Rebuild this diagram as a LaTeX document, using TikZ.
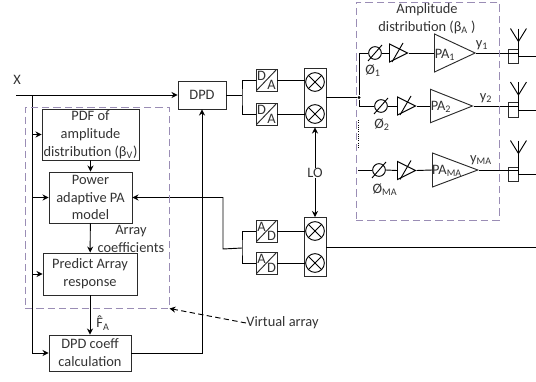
\documentclass[tikz,border=0pt]{standalone}
\usepackage{fontspec}
\setmainfont{Carlito}
\usetikzlibrary{arrows.meta, positioning, shapes.geometric}

\definecolor{inkline}{HTML}{2B2B2B}
\definecolor{dashbox}{HTML}{9A8DB5}

\tikzset{
    block/.style={draw=inkline, align=center, inner sep=0pt, text=black!80},
    lbl/.style={inner sep=0pt, align=center, text=black!80},
    mixbox/.style={draw=inkline, minimum width=16.5pt, minimum height=44.25pt, inner sep=0pt},
    mixer/.style={circle, draw=black, minimum size=14pt, inner sep=0pt,
        path picture={
            \draw (path picture bounding box.south west) -- (path picture bounding box.north east);
            \draw (path picture bounding box.north west) -- (path picture bounding box.south east);
        }},
    conv/.style={draw=inkline, minimum width=15.75pt, minimum height=16.5pt, inner sep=0pt,
        path picture={
            \draw (path picture bounding box.south west) -- (path picture bounding box.north east);
        }},
    phase/.style={circle, draw=black, minimum size=9.5pt, inner sep=0pt},
    amp/.style={isosceles triangle, isosceles triangle stretches, draw=black, inner sep=0pt,
        anchor=lower side, minimum width=13.5pt, minimum height=13.5pt},
    pa/.style={isosceles triangle, isosceles triangle stretches, draw=inkline, inner sep=0pt,
        anchor=lower side},
    antbox/.style={draw=inkline, minimum width=7.5pt, minimum height=11pt, inner sep=0pt},
    dashframe/.style={draw=dashbox, dash pattern=on 5.5pt off 3pt, line width=0.75pt},
}

\begin{document}
\begin{tikzpicture}[x=0.75pt, y=-0.75pt, line width=0.7pt, >={Stealth[length=4.5pt,width=4.5pt]},
        font=\fontsize{10.8}{13.4}\selectfont]
        \useasboundingbox (0,0) rectangle (536,382);

        % virtual array side
        \node[block, minimum width=72.75pt, minimum height=38.25pt] (pdf) at (90.5,134.5)
            {PDF of\\amplitude\\distribution (β\textsubscript{V})};
        \node[block, minimum width=62.25pt, minimum height=38.25pt] (power) at (90.5,197.5)
            {Power\\adaptive PA\\model};
        \node[block, minimum width=70.5pt, minimum height=31.5pt] (predict) at (90,274)
            {Predict Array\\response};
        \node[block, minimum width=61.5pt, minimum height=27pt] (dpdcoeff) at (90,353)
            {DPD coeff\\calculation};
        \node[block, minimum width=36pt, minimum height=21pt] (dpd) at (202,95) {DPD};

        \coordinate (xin) at (16,95);
        \coordinate (xtap) at (32,95);
        \node[lbl] (xlabel) at (17,80) {X};
        \draw[->] (xin) -- (dpd.west);
        \draw[->] (xtap) |- (dpdcoeff.west);
        \draw[->] (xtap |- pdf.west) -- (pdf.west);
        \draw[->] (xtap |- power.west) -- (power.west);
        \draw[->] (xtap |- predict.west) -- (predict.west);

        \draw[->] (pdf.south -| power.north) -- (power.north);
        \draw[->] (power) -- (predict);
        \draw[->] (predict.south -| dpdcoeff.north) -- (dpdcoeff.north);
        \draw[->] (dpdcoeff.east) -| (dpd.south);

        \node[lbl] (arraycoeff) at (131,239) {Array\hspace{7pt}\\coefficients};
        \node[lbl] (fhat) at (103,323) {\accent"02C6 F\textsubscript{A}};

        % up and down conversion
        \coordinate (splitda) at (242,97);
        \coordinate (splitad) at (242,248);
        \node[conv] (da1) at (266.5,80) {};
        \node[conv] (da2) at (266.5,114) {};
        \node[conv] (ad1) at (266.5,231) {};
        \node[conv] (ad2) at (266.5,263) {};
        \foreach \n/\a/\b in {da1/D/A, da2/D/A, ad1/A/D, ad2/A/D} {
            \node[lbl] at ([shift={(-5,-4)}]\n.center) {\a};
            \node[lbl] at ([shift={(5,5)}]\n.center) {\b};
        }
        \node[mixbox] (mxt) at (315,97.5) {};
        \node[mixbox] (mxb) at (315,247) {};
        \node[mixer] (mix1) at (315,82) {};
        \node[mixer] (mix2) at (315,114) {};
        \node[mixer] (mix3) at (315,231) {};
        \node[mixer] (mix4) at (315,263) {};

        \draw (dpd.east) -- (dpd.east -| splitda);
        \draw (da1.west) -| (splitda) |- (da2.west);
        \draw (ad1.west) -| (splitad) |- (ad2.west);
        \draw (da1.east) -- (da1.east -| mix1.west);
        \draw (da2.east) -- (da2.east -| mix2.west);
        \draw (ad1.east) -- (mix3.west);
        \draw (ad2.east) -- (mix4.west);

        \coordinate (fbturn) at (223,249);
        \draw[->] (splitad) -- (fbturn) |- (power.east);

        \node[lbl] (lo) at (315,173) {LO};
        \draw[->] (lo) -- (mxt.south);
        \draw[->] (lo) -- (mxb.north);
        \coordinate (rxout) at (536,247);
        \draw (mxb.east) -- (rxout);

        % amplitude distribution side
        \node[circle, fill=black, inner sep=0pt, minimum size=2.5pt] (junc) at (359,97.5) {};
        \draw (mxt.east) -- (junc);
        \coordinate (rowma) at (358,170);
        \coordinate (dotsa) at (358,120);
        \coordinate (dotsb) at (358,149);
        \draw[densely dotted] (dotsa) -- (dotsb);

        \node[phase] (ph1) at (375,53) {};
        \node[phase] (ph2) at (381,106) {};
        \node[phase] (ph3) at (379,170) {};
        \node[amp] (amp1) at (389,53) {};
        \node[amp] (amp2) at (397,106) {};
        \node[amp] (amp3) at (397,170.5) {};
        \node[pa, minimum width=28.5pt, minimum height=30.5pt] (pa1) at (434,53) {};
        \node[pa, minimum width=25pt, minimum height=31.5pt] (pa2) at (430,106) {};
        \node[pa, minimum width=25.5pt, minimum height=34pt] (pa3) at (432,170) {};
        \node[antbox] (ant1) at (513,56.5) {};
        \node[antbox] (ant2) at (513,110) {};
        \node[antbox] (ant3) at (513,174.5) {};
        \coordinate (out1) at (536,56.5);
        \coordinate (out2) at (536,110);
        \coordinate (out3) at (536,174.5);

        \draw (ph1.west) -| (junc) |- (ph2.west);
        \draw (rowma) -- (ph3.west);
        \foreach \n in {1,2,3} {
            \draw ([shift={(-7,8)}]ph\n.center) -- ([shift={(7,-8)}]ph\n.center);
            \draw ([shift={(3,9)}]amp\n.lower side) -- ([shift={(14,-10)}]amp\n.lower side);
            \draw (ph\n.east) -- (amp\n.lower side);
            \draw (amp\n.apex) -- (pa\n.lower side);
            \draw (pa\n.apex) -- (pa\n.apex -| ant\n.east);
            \draw (ant\n.east) -- (out\n);
        }
        \foreach \n/\t/\v in {ant1/28/15, ant2/28/15, ant3/34/21} {
            \draw ([shift={(-8,-\t)}]\n.east) -- ([shift={(0,-\v)}]\n.east) -- ([shift={(8,-\t)}]\n.east);
            \draw ([shift={(0,-\t)}]\n.east) -- (\n.east);
        }

        \node[lbl] (phl1) at (373,71) {Ø\textsubscript{1}};
        \node[lbl] (phl2) at (382,125) {Ø\textsubscript{2}};
        \node[lbl] (phl3) at (385,190) {Ø\textsubscript{MA}};
        \node[lbl] (pal1) at (445,55) {PA\textsubscript{1}};
        \node[lbl] (pal2) at (441,107) {PA\textsubscript{2}};
        \node[lbl] (pal3) at (447,171) {PA\textsubscript{MA}};
        \node[lbl] (yl1) at (482,45) {y\textsubscript{1}};
        \node[lbl] (yl2) at (486,98) {y\textsubscript{2}};
        \node[lbl] (yl3) at (481,160) {y\textsubscript{MA}};
        \node[lbl] (amptitle) at (427,18.5) {Amplitude\\distribution (β\textsubscript{A} )};

        % dashed frames
        \node[dashframe, minimum width=108pt, minimum height=150.75pt, inner sep=0pt] (virtbox) at (97,207.5) {};
        \node[dashframe, minimum width=107.25pt, minimum height=163.5pt, inner sep=0pt] (ampbox) at (427.5,111) {};
        \node[lbl, anchor=west] (virtlabel) at (246,323) {Virtual array};
        \draw[->, dash pattern=on 4pt off 2.5pt] (virtlabel.west) -- (virtbox.south east);
\end{tikzpicture}
\end{document}
